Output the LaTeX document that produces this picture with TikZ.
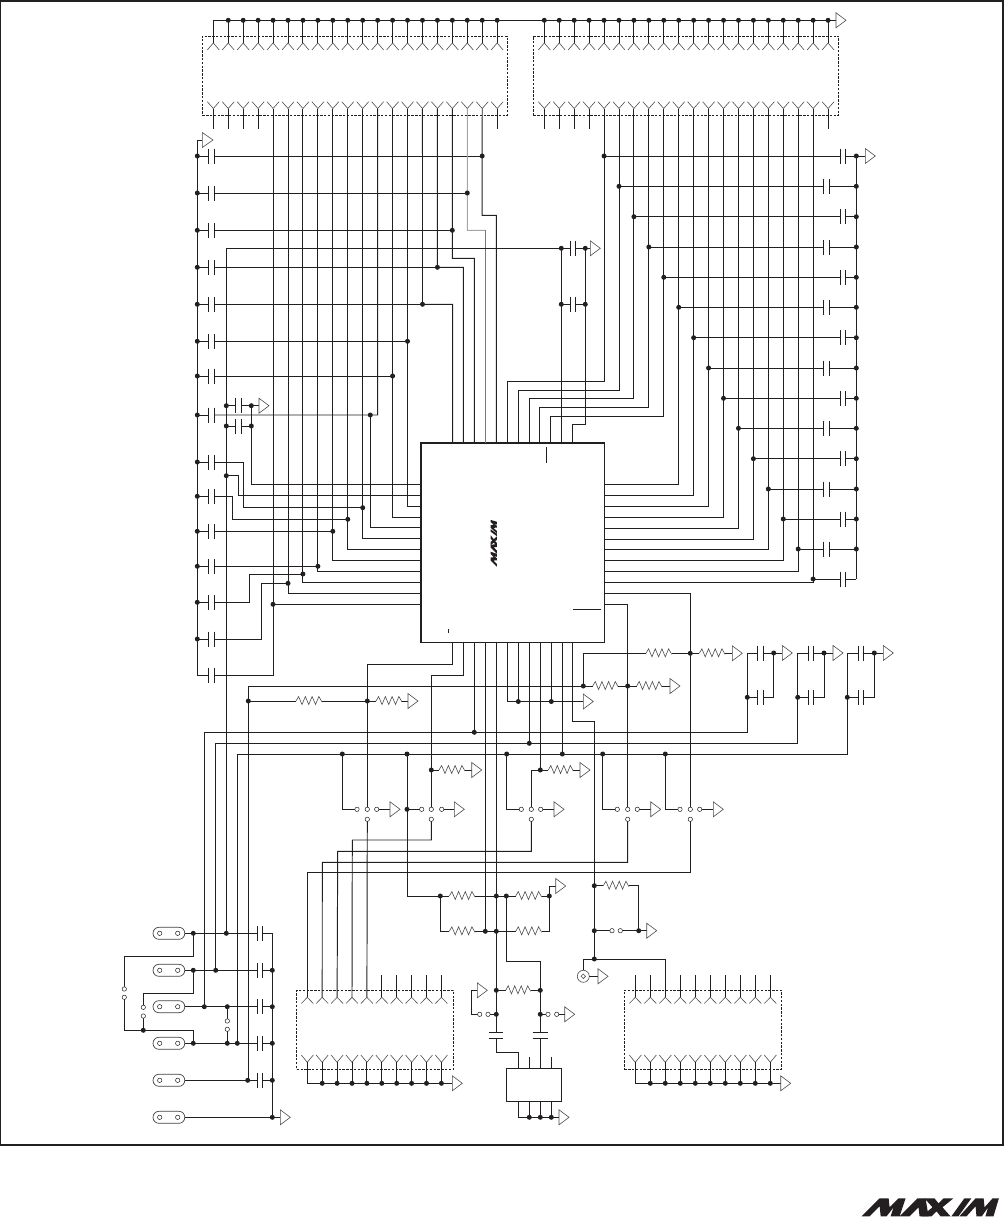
\documentclass[tikz,border=0pt]{standalone}
\definecolor{ink}{HTML}{231F20}
\tikzset{
  wire/.style={draw=ink,line width=0.95pt,line join=miter},
  sym/.style={draw=ink!80,line width=0.6pt,line join=miter},
  plate/.style={draw=ink,line width=0.85pt},
  connbox/.style={draw=ink,line width=0.75pt,dash pattern=on 2.4pt off 1.4pt,inner sep=0pt,rectangle},
  padbox/.style={draw=ink!85,line width=0.7pt,rounded corners=5.8pt,minimum width=31.7pt,minimum height=12pt,inner sep=0pt},
  icbox/.style={inner sep=0pt,rectangle},
  thickrule/.style={draw=ink,line width=1.9pt},
}
\newcommand\gnd[2]{\draw[sym] (#1,#2-7.5)--(#1+10,#2)--(#1,#2+7.5)--cycle;}
\newcommand\res[3]{\draw[sym] (#1,#3)--(#1+.1*#2-.1*#1,#3-4.5)--(#1+.23*#2-.23*#1,#3+3.5)--(#1+.36*#2-.36*#1,#3-4.5)--(#1+.49*#2-.49*#1,#3+3.5)--(#1+.62*#2-.62*#1,#3-4.5)--(#1+.75*#2-.75*#1,#3+3.5)--(#1+.88*#2-.88*#1,#3-4.5)--(#2,#3+1);}
\newcommand\hcap[3]{\draw[plate] (#1,#3-7.5)--(#1,#3+7.5) (#2,#3-7.5)--(#2,#3+7.5);}
\newcommand\ring[2]{\draw[draw=ink,line width=.5pt,fill=white] (#1,#2) circle (2.2pt);}
\newcommand\logoM{\fill[ink] (0,18)--(18,0)--(27,0)--(28,9)--(37,0)--(44,0)--(38,18)--(29,18)--(32,9)--(25,18)--(19,18)--(18,8)--(8,18)--cycle;}
\newcommand\logo{%
  \logoM
  \fill[ink] (38,18)--(56,0)--(64,0)--(67,18)--(58,18)--(57,9)--(48,18)--cycle;
  \fill[ink] (63,0)--(73,0)--(77,5)--(82,0)--(92,0)--(81,9)--(89,18)--(79,18)--(75,13)--(70,18)--(60,18)--(71,9)--cycle;
  \fill[ink] (90,18)--(103,0)--(110,0)--(97,18)--cycle;
  \begin{scope}[shift={(98,0)},xscale=.9]\logoM\end{scope}
}
\begin{document}
\begin{tikzpicture}[x=1pt,y=-1pt]
\useasboundingbox (0,0) rectangle (1004,1223);
% frame
\draw[thickrule] (0.4,0.6) rectangle (1003.4,1145.4);

% ---- connectors ----
\node[connbox,minimum width=304.5pt,minimum height=79.5pt] (J1) at (354.7,75.7) {};
\node[connbox,minimum width=305.4pt,minimum height=79.5pt] (J2) at (686,75.7) {};
\node[connbox,minimum width=156.6pt,minimum height=79pt] (J3) at (375,1029.8) {};
\node[connbox,minimum width=157.4pt,minimum height=78.7pt] (J4) at (703,1029.7) {};

\draw[wire] (213.3,20.3) -- (836,20.3); \gnd{836}{20.3}
\foreach \k in {1,...,20}{
  \pgfmathsetmacro\xa{213.3+14.94*(\k-1)}
  \pgfmathsetmacro\xb{544.3+14.935*(\k-1)}
  \coordinate (ja\k) at (\xa,108.5);
  \coordinate (jb\k) at (\xb,108.5);
  \draw[wire] (\xa,20.3)--(\xa,43) (\xb,20.3)--(\xb,43);
  \draw[sym] (\xa-6,50)--(\xa,43)--(\xa+6,50) (\xa-6,101.7)--(\xa,108.5)--(\xa+6,101.7);
  \draw[sym] (\xb-6,50)--(\xb,43)--(\xb+6,50) (\xb-6,101.7)--(\xb,108.5)--(\xb+6,101.7);
  \ifnum\k>1 \fill[ink] (\xa,20.3) circle (2.5pt); \fi
  \fill[ink] (\xb,20.3) circle (2.5pt);
}
\foreach \k in {1,2,3,4,20}{
  \draw[wire] (ja\k) -- ++(0,20.8);
  \draw[wire] (jb\k) -- ++(0,20.8);
}
\foreach \k in {1,...,10}{
  \pgfmathsetmacro\xa{307.3+14.9*(\k-1)}
  \pgfmathsetmacro\xb{635.3+15*(\k-1)}
  \coordinate (jc\k) at (\xa,997.3);
  \coordinate (jd\k) at (\xb,997.3);
  \draw[sym] (\xa-6,1003.5)--(\xa,997.3)--(\xa+6,1003.5) (\xa-6,1055)--(\xa,1062.3)--(\xa+6,1055);
  \draw[sym] (\xb-6,1003.5)--(\xb,997.3)--(\xb+6,1003.5) (\xb-6,1055)--(\xb,1062.3)--(\xb+6,1055);
  \draw[wire] (\xa,1062.3)--(\xa,1083.3) (\xb,1062.3)--(\xb,1083.3);
  \ifnum\k>1 \fill[ink] (\xa,1083.3) circle (2.5pt); \fill[ink] (\xb,1083.3) circle (2.5pt); \fi
}
\foreach \k in {6,...,10}{\draw[wire] (jc\k) -- ++(0,-22.3);}
\foreach \k in {1,2,4,5,6,7,8,9,10}{\draw[wire] (jd\k) -- ++(0,-22.3);}
\draw[wire] (307.3,1083.3)--(452.3,1083.3); \gnd{452.3}{1083.3}
\draw[wire] (635.3,1083.3)--(780.7,1083.3); \gnd{780.7}{1083.3}

% ---- main chip ----
\node[icbox,minimum width=183.7pt,minimum height=199pt] (U1) at (512.85,542.8) {};
\draw[wire] (U1.north east)--(U1.south east)--(U1.south west);
\draw[thickrule] (U1.south west)--(U1.north west)--(U1.north east);
\draw[wire] (546.7,447.3)--(546.7,463.3) (573,609.3)--(601,609.3);
\draw[wire] (448.3,629)--(448.3,633);
\begin{scope}[shift={(490.7,566.7)},rotate=90,scale=0.34]\logo\end{scope}
\begin{scope}[shift={(861.7,1198.3)},scale=0.997]\logo\end{scope}

\foreach \i/\y in {1/484.3,2/495.3,3/506.7,4/517.3,5/527.3,6/538.3,7/549.3,8/560.3,9/571.3,10/582.3,11/593.3,12/604.3}{\coordinate (cl\i) at (421,\y);}
\foreach \i/\y in {1/484.3,2/495.3,3/506.3,4/517.3,5/528.3,6/539.3,7/549.3,8/560.3,9/571.3,10/582.3,11/593.7,12/604.3}{\coordinate (cr\i) at (604.7,\y);}
\foreach \i/\x in {1/452.7,2/463.3,3/474.3,4/485.3,5/496.3,6/507.3,7/518.3,8/529.3,9/539.3,10/550.3,11/561.3,12/572.3}{\coordinate (ct\i) at (\x,443.3);}
\foreach \i/\x in {1/452.7,2/463.3,3/474.3,4/485.3,5/496.3,6/507.3,7/518.3,8/529.3,9/540.3,10/551.3,11/562.3,12/572.3}{\coordinate (cb\i) at (\x,642.3);}

% ---- left capacitor column ----
\draw[wire] (202.3,140)--(197.3,140)--(197.3,675)--(208.3,675);
\draw[sym] (202.3,132.5)--(213,140)--(202.3,147.5)--cycle;
\foreach \i/\y in {1/156,2/193,3/230.3,4/267.3,5/304.3,6/341.3,7/376,8/415,9/462,10/496.3,11/531.3,12/566.3,13/602.3,14/639,15/675}{
  \coordinate (lc\i) at (214.3,\y);
  \hcap{208.3}{214.3}{\y}
  \ifnum\i<15
    \draw[wire] (197.3,\y)--(208.3,\y);
    \fill[ink] (197.3,\y) circle (2.5pt);
  \fi
}
\draw[wire] (lc1)--(lc1 -| ja19);
\draw[wire] (lc3)--(lc3 -| ja17);
\draw[wire] (lc4)--(lc4 -| ja16);
\draw[wire] (lc5)--(lc5 -| ja15);
\draw[wire] (lc6)--(lc6 -| ja14);
\draw[wire] (lc7)--(lc7 -| ja13);
\draw[wire] (lc8)--(377.6,415)--(ja12);
\draw[wire] (370.3,415)--(370.3,527.3)--(cl5);
\draw[wire] (lc9)--(243.7,462)--(243.7,507.7)--(362.7,507.7);
\draw[wire] (lc10)--(232.7,496.3)--(232.7,519.3)--(347.8,519.3);
\draw[wire] (lc11)--(lc11 -| ja9);
\draw[wire] (lc12)--(lc12 -| ja8);
\draw[wire] (lc13)--(249.3,602.3)--(249.3,574)--(302.9,574);
\draw[wire] (lc14)--(261.7,639)--(261.7,583.3)--(288,583.3);
\draw[wire] (lc15)--(lc15 -| ja5)--(ja5);
\draw[wire] (cl12)--(cl12 -| ja5);
\draw[wire] (ja6)|-(cl11);
\draw[wire] (ja7)|-(cl10);
\draw[wire] (ja8)|-(cl9);
\draw[wire] (ja9)|-(cl8);
\draw[wire] (ja10)|-(cl7);
\draw[wire] (ja11)|-(cl6);
\draw[wire] (ja13)|-(cl4);
\draw[wire] (ja14)|-(cl3);
\draw[wire] (ja15)--(422.5,304.3)--(452.7,304.3)--(ct1);
\draw[wire] (ja16)--(437.4,267.3)--(463.3,267.3)--(ct2);
\draw[wire] (ja17)--(452.3,258.3)--(474.3,258.3)--(ct3);
\draw[draw=ink!40,line width=.95pt] (ja18)--(467.3,230.3)--(485.3,230.3);
\draw[draw=ink!60,line width=.95pt] (485.3,230.3)--(ct4);
\draw[wire] (lc2)--(lc2 -| ja18);
\draw[wire] (ja19)--(482.2,215.3)--(496.3,215.3)--(ct5);
\foreach \p in {(482.2,156),(467.3,193),(452.3,230.3),(437.4,267.3),(422.5,304.3),(407.5,341.3),(392.6,376),(370.3,415),(362.7,507.7),(347.8,519.3),(332.8,531.3),(317.9,566.3),(302.9,574),(288,583.3),(273,604.3)}{\fill[ink] \p circle (2.5pt);}

% second wire on x=226
\draw[wire] (226.3,933.3)--(226.3,248.3)--(561.3,248.3);
\hcap{235.7}{241.7}{405.7} \hcap{235.7}{241.7}{426}
\draw[wire] (226.3,405.7)--(235.7,405.7) (241.7,405.7)--(259,405.7); \gnd{259}{405.7}
\draw[wire] (226.3,426)--(235.7,426) (241.7,426)--(251.3,426);
\draw[wire] (cl1)--(251.3,484.3)--(251.3,405.7);
\draw[wire] (cl2)--(238.7,495.3)--(238.7,475.7)--(226.3,475.7);
\foreach \p in {(226.3,405.7),(226.3,426),(226.3,475.7),(251.3,405.7),(251.3,426)}{\fill[ink] \p circle (2.5pt);}

% ---- upper middle caps ----
\draw[wire] (ct11)--(561.3,248.3);
\draw[wire] (ct12)--(572.3,424.3)--(585.3,424.3)--(585.3,248.3);
\hcap{570.7}{575.7}{248.3} \hcap{570.7}{575.7}{304.3}
\draw[wire] (561.3,248.3)--(570.7,248.3) (575.7,248.3)--(590.3,248.3); \gnd{590.3}{248.3}
\draw[wire] (561.3,304.3)--(570.7,304.3) (575.7,304.3)--(585.3,304.3);
\foreach \p in {(561.3,248.3),(585.3,248.3),(561.3,304.3),(585.3,304.3)}{\fill[ink] \p circle (2.5pt);}

% ---- right capacitor column ----
\draw[wire] (856.3,156)--(856.3,579);
\draw[wire] (856.3,156)--(865.3,156); \gnd{865.3}{156}
\foreach \i/\y/\k/\pa/\pb in {1/156/5/840.3/845.7,2/186.3/6/823.3/829.3,3/216.7/7/840.3/845.7,4/247/8/823.3/829.3,5/277.3/9/840.3/845.7,6/307.3/10/823.3/829.3,7/337.7/11/840.3/845.7,8/368/12/823.3/829.3,9/398.3/13/840.3/845.7,10/428.3/14/823.3/829.3,11/458.7/15/840.3/845.7,12/489/16/823.3/829.3,13/519/17/840.3/845.7,14/549/18/823.3/829.3,15/579/19/840.3/845.7}{
  \coordinate (rc\i) at (\pa,\y);
  \hcap{\pa}{\pb}{\y}
  \draw[wire] (rc\i -| jb\k)--(rc\i) (\pb,\y)--(856.3,\y);
  \fill[ink] (rc\i -| jb\k) circle (2.5pt);
  \ifnum\i<15 \fill[ink] (856.3,\y) circle (2.5pt); \fi
}
\draw[wire] (jb5)--(jb5 |- 0,381.3)--(507.3,381.3)--(ct6);
\draw[wire] (jb6)--(jb6 |- 0,390.3)--(518.3,390.3)--(ct7);
\draw[wire] (jb7)--(jb7 |- 0,398.3)--(529.3,398.3)--(ct8);
\draw[wire] (jb8)--(jb8 |- 0,407.3)--(539.3,407.3)--(ct9);
\draw[wire] (jb9)--(jb9 |- 0,416.3)--(550.3,416.3)--(ct10);
\draw[wire] (jb10)|-(cr1);
\draw[wire] (jb11)|-(cr2);
\draw[wire] (jb12)|-(cr3);
\draw[wire] (jb13)|-(cr4);
\draw[wire] (jb14)|-(cr5);
\draw[wire] (jb15)|-(cr6);
\draw[wire] (jb16)|-(cr7);
\draw[wire] (jb17)|-(cr8);
\draw[wire] (jb18)|-(cr9);
\draw[wire] (jb19)|-(cr10);
\draw[wire] (cr11)--(690.3,593.7)--(690.3,809.3);
\draw[wire] (cr12)--(627.7,604.3)--(627.7,809.3);

% ---- chip bottom ----
\draw[wire] (cb1)--(452.7,664.3)--(367.3,664.3)--(367.3,809.3);
\draw[wire] (cb2)--(463.3,675.3)--(431.3,675.3)--(431.3,809.3);
\draw[wire] (cb3)--(474.3,732.3);
\draw[wire] (cb4)--(485.3,931.3);
\draw[wire] (cb5)--(496.3,1032.3);
\draw[wire] (cb6)--(507.3,701.5)--(583.3,701.5); \gnd{583.3}{701.5}
\draw[wire] (cb7)--(518.3,701.5);
\draw[wire] (cb8)--(529.3,743.3);
\draw[wire] (cb9)--(540.3,770);
\draw[wire] (cb10)--(551.3,701.5);
\draw[wire] (cb11)--(562.3,754);
\draw[wire] (cb12)--(572.3,721.3)--(594.3,721.3)--(594.3,959);

% horizontal buses
\draw[wire] (204.3,1006.7)--(204.3,732.3)--(747.3,732.3)--(747.3,653);
\draw[wire] (215.7,970.3)--(215.7,743.3)--(797.7,743.3)--(797.7,653);
\draw[wire] (237.3,1043.3)--(237.3,754)--(847.3,754)--(847.3,653);
\draw[wire] (248.3,1080.3)--(248.3,686)--(583.3,686)--(583.3,653.3)--(646,653.3);
\res{646}{671.7}{653.3}
\draw[wire] (671.7,653.3)--(699.3,653.3); \res{699.3}{725}{653.3}
\draw[wire] (725,653.3)--(732.3,653.3); \gnd{732.3}{653.3}
\draw[wire] (583.3,686)--(592.7,686); \res{592.7}{618.3}{686}
\draw[wire] (618.3,686)--(636.7,686); \res{636.7}{662}{686}
\draw[wire] (662,686)--(670,686); \gnd{670}{686}
\draw[wire] (248.3,701)--(296,701); \res{296}{322}{701}
\draw[wire] (322,701)--(376,701); \res{376}{402}{701}
\draw[wire] (402,701)--(408,701); \gnd{408}{701}

% output caps
\foreach \xl/\pa/\pb/\xd/\xg in {747.3/757.7/763.3/773.7/782.3,797.7/808.3/813.3/824/833,847.3/858.3/863.7/874.3/883.3}{
  \hcap{\pa}{\pb}{653} \hcap{\pa}{\pb}{697.3}
  \draw[wire] (\xl,653)--(\pa,653) (\pb,653)--(\xg,653);
  \draw[wire] (\xl,697.3)--(\pa,697.3) (\pb,697.3)--(\xd,697.3)--(\xd,653);
  \gnd{\xg}{653}
  \fill[ink] (\xl,697.3) circle (2.5pt); \fill[ink] (\xd,653) circle (2.5pt);
}

% drops to jumpers
\draw[wire] (342.3,754)--(342.3,809.3)--(357,809.3);
\draw[wire] (376.7,809.3)--(390,809.3); \gnd{390}{809.3}
\draw[wire] (407,754)--(407,896)--(440.3,896);
\draw[wire] (407,809.3)--(421.7,809.3);
\draw[wire] (441.7,809.3)--(454.3,809.3); \gnd{454.3}{809.3}
\draw[wire] (431.3,770)--(439,770); \res{439}{465}{770}
\draw[wire] (465,770)--(471.7,770); \gnd{471.7}{770}
\draw[wire] (506.7,754)--(506.7,809.3)--(521.3,809.3);
\draw[wire] (540.7,809.3)--(554,809.3); \gnd{554}{809.3}
\draw[wire] (540.3,770)--(531.3,770)--(531.3,809.3);
\draw[wire] (540.3,770)--(548.3,770); \res{548.3}{573.3}{770}
\draw[wire] (573.3,770)--(580,770); \gnd{580}{770}
\draw[wire] (602.7,754)--(602.7,809.3)--(617.3,809.3);
\draw[wire] (637.3,809.3)--(650.7,809.3); \gnd{650.7}{809.3}
\draw[wire] (665.3,754)--(665.3,809.3)--(680,809.3);
\draw[wire] (699.7,809.3)--(713.3,809.3); \gnd{713.3}{809.3}

% to J3
\draw[wire] (367.3,819.3)--(jc5);
\draw[wire] (431.3,819.3)--(431.3,840)--(352.3,840)--(jc4);
\draw[wire] (531.3,819.3)--(531.3,851.3)--(337.7,851.3)--(jc3);
\draw[wire] (627.7,819.3)--(627.7,862.3)--(322.3,862.3)--(jc2);
\draw[wire] (690.3,819.3)--(690.3,872.3)--(307.3,872.3)--(jc1);

% resistor group
\draw[wire] (440.3,896)--(449.3,896); \res{449.3}{475}{896}
\draw[wire] (475,896)--(515.7,896); \res{515.7}{541.7}{896}
\draw[wire] (541.7,896)--(549.3,896);
\draw[wire] (555.7,886)--(549.3,886)--(549.3,931.3)--(541.7,931.3);
\gnd{555.7}{886}
\res{515.7}{541.7}{931.3}
\draw[wire] (515.7,931.3)--(475,931.3);
\res{449.3}{475}{931.3}
\draw[wire] (449.3,931.3)--(440.3,931.3)--(440.3,896);
\draw[wire] (506.3,896)--(506.3,961.3)--(540.3,961.3)--(540.3,1032.3);
\draw[plate] (488.7,1032.3)--(503.3,1032.3) (488.7,1038.3)--(503.3,1038.3);
\draw[plate] (532.7,1032.3)--(547.7,1032.3) (532.7,1038.3)--(547.7,1038.3);
\draw[wire] (496.3,1038.3)--(496.3,1052.7)--(518.7,1052.7)--(518.7,1068.3);
\draw[wire] (540.3,1038.3)--(540.3,1068.3);
\draw[wire] (496.3,990.3)--(505.7,990.3); \res{505.7}{530.7}{990.3}
\draw[wire] (530.7,990.3)--(540.3,990.3);
\draw[wire] (477.3,990.3)--(471.7,990.3)--(471.7,1014.3)--(479.7,1014.3); \gnd{477.3}{990.3}
\draw[wire] (488,1014.3)--(496.3,1014.3);
\draw[wire] (540.3,1014.3)--(548,1014.3) (556.7,1014.3)--(564.7,1014.3); \gnd{564.7}{1014.3}

% small IC
\node[icbox,draw=ink,line width=.85pt,minimum width=55.4pt,minimum height=33pt] (U2) at (534,1084.8) {};
\draw[wire] (529.3,1057)--(529.3,1068.3) (551.3,1057)--(551.3,1068.3);
\draw[wire] (518.7,1101.3)--(518.7,1117.3)--(559,1117.3); \gnd{559}{1117.3}
\draw[wire] (529.3,1101.3)--(529.3,1117.3) (540.3,1101.3)--(540.3,1117.3) (551.3,1101.3)--(551.3,1117.3);

% right lower group
\draw[wire] (594.3,885.7)--(603.3,885.7); \res{603.3}{629}{885.7}
\draw[wire] (629,885.7)--(638.7,885.7)--(638.7,930.7)--(646.7,930.7); \gnd{646.7}{930.7}
\draw[wire] (594.3,930.7)--(612,930.7) (620.3,930.7)--(638.7,930.7);
\draw[wire] (594.3,959)--(665.3,959)--(jd3);
\draw[wire] (594.3,959)--(583.3,959)--(583.3,970.3);
\draw[wire] (589.3,976.3)--(598,976.3); \gnd{598}{976.3}
\draw[sym] (583.3,976.3) circle (6pt);
\draw[sym] (583.3,974)--(585.6,976.3)--(583.3,978.6)--(581,976.3)--cycle;

% pads
\foreach \i/\y in {1/933.3,2/970.3,3/1006.7,4/1043.3,5/1080.3,6/1117.3}{
  \node[padbox] (P\i) at (168.9,\y) {};
  \ring{159.7}{\y} \ring{177.7}{\y}
}
\foreach \i/\y in {1/933.3,2/970.3,3/1006.7,4/1043.3,5/1080.3}{
  \hcap{257}{262.7}{\y}
  \draw[wire] (P\i.east)--(257,\y) (262.7,\y)--(272.3,\y);
}
\draw[wire] (272.3,933.3)--(272.3,1117.3);
\draw[wire] (P6.east)--(280.3,1117.3); \gnd{280.3}{1117.3}
\foreach \p in {(272.3,970.3),(272.3,1006.7),(272.3,1043.3),(272.3,1080.3),(272.3,1117.3),(193.3,933.3),(226.3,933.3),(193.3,970.3),(215.7,970.3),(204.3,1006.7),(227.3,1006.7),(193.3,1043.3),(227.3,1043.3),(237.3,1043.3),(247.7,1080.3),(143.3,1030.3)}{\fill[ink] \p circle (2.5pt);}
\draw[wire] (193.3,933.3)--(193.3,956.3)--(124.3,956.3)--(124.3,989);
\draw[wire] (124.3,997.3)--(124.3,1030.3)--(193.3,1030.3)--(193.3,1043.3);
\draw[wire] (193.3,970.3)--(193.3,993.3)--(143.3,993.3)--(143.3,1007.3);
\draw[wire] (143.3,1016)--(143.3,1030.3);
\draw[wire] (227.3,1006.7)--(227.3,1021) (227.3,1029.3)--(227.3,1043.3);
\foreach \x/\y in {124.3/989,124.3/997.3,143.3/1007.3,143.3/1016,227.3/1021,227.3/1029.3}{\ring{\x}{\y}}

% rings
\foreach \x in {357,367.3,376.7,421.7,431.3,441.7,521.3,531.3,540.7,617.3,627.7,637.3,680,690.3,699.7}{\ring{\x}{809.3}}
\foreach \x in {367.3,431.3,531.3,627.7,690.3}{\ring{\x}{819.3}}
\foreach \x in {612,620.3}{\ring{\x}{930.7}}
\foreach \x in {479.7,488,548,556.7}{\ring{\x}{1014.3}}

% remaining dots
\foreach \p in {(474.3,732.3),(529.3,743.3),(562.3,754),(518.3,701.5),(551.3,701.5),(248.3,701),(367.3,701),(583.3,686),(627.7,686),(690.3,653.3),(342.3,754),(407,754),(506.7,754),(602.7,754),(665.3,754),(407,809.3),(431.3,770),(540.3,770),(440.3,896),(496.3,896),(506.3,896),(549.3,896),(485.3,931.3),(496.3,931.3),(496.3,990.3),(540.3,990.3),(496.3,1014.3),(540.3,1014.3),(594.3,885.7),(594.3,930.7),(594.3,959),(638.7,930.7),(529.3,1117.3),(540.3,1117.3),(551.3,1117.3)}{\fill[ink] \p circle (2.5pt);}
\end{tikzpicture}
\end{document}
